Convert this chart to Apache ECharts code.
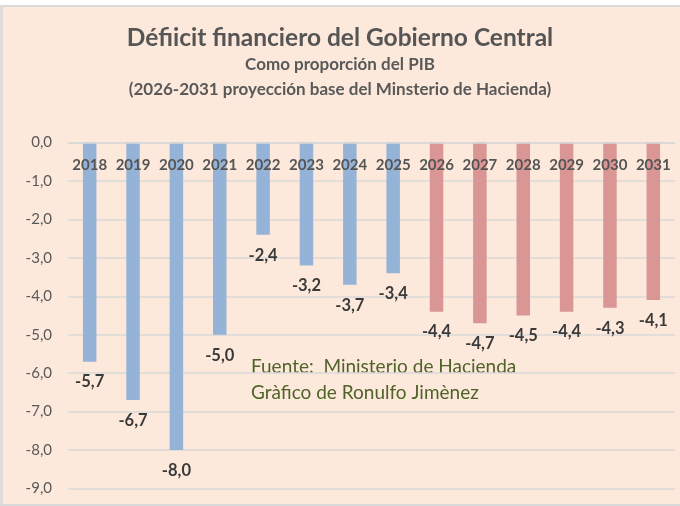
<!DOCTYPE html>
<html>
<head>
<meta charset="utf-8">
<script src="https://cdn.jsdelivr.net/npm/echarts@6/dist/echarts.min.js"></script>
<style>
  html, body { margin: 0; padding: 0; background: #ffffff; }
  #chart { width: 680px; height: 506px; }
</style>
</head>
<body>
<div id="chart"></div>
<script>
// data
const years = ['2018', '2019', '2020', '2021', '2022', '2023', '2024', '2025',
               '2026', '2027', '2028', '2029', '2030', '2031']
const deficit = [-5.7, -6.7, -8.0, -5.0, -2.4, -3.2, -3.7, -3.4,
                 -4.4, -4.7, -4.5, -4.4, -4.3, -4.1]
const firstProjected = '2026'
const titleLines = [
    'Défiicit financiero del Gobierno Central',
    'Como proporción del PIB',
    '(2026-2031 proyección base del Minsterio de Hacienda)'
]
const noteLines = ['Fuente:  Ministerio de Hacienda', 'Gràfico de Ronulfo Jimènez']

const FONT = 'Lato, "Open Sans", sans-serif'
const comma = v => Number(v).toFixed(1).replace('.', ',')

let chart = echarts.init(document.getElementById('chart'))

let option = {
    backgroundColor: '#fde9db',
    animation: false,
    textStyle: { fontFamily: FONT },
    grid: { left: 68, right: 5, top: 142.5, bottom: 17.5 },
    xAxis: {
        type: 'category',
        data: years,
        position: 'top',
        z: 10,
        axisLine: { show: true, lineStyle: { color: '#d9d9d9', width: 1.5 } },
        axisTick: { show: false },
        axisLabel: {
            inside: true,
            interval: 0,
            margin: 15,
            color: '#555555',
            fontSize: 15,
            fontWeight: 'bold',
            fontFamily: FONT
        }
    },
    yAxis: {
        type: 'value',
        min: -9,
        max: 0,
        interval: 1,
        axisLine: { show: false },
        axisTick: { show: false },
        splitLine: { lineStyle: { color: '#d9d9d9', width: 1.5 } },
        axisLabel: {
            margin: 16,
            color: '#595959',
            fontSize: 15,
            fontFamily: FONT,
            formatter: comma
        }
    },
    series: [{
        type: 'bar',
        data: deficit,
        barWidth: 13.5,
        itemStyle: {
            color: p => years[p.dataIndex] >= firstProjected ? '#d99694' : '#95b3d7'
        },
        label: {
            show: true,
            position: 'bottom',
            distance: 12,
            color: '#3a3a3a',
            fontSize: 16.5,
            fontWeight: 'bold',
            fontFamily: FONT,
            formatter: p => comma(p.value)
        }
    }],
    graphic: [
        // spreadsheet frame round the chart
        { type: 'rect', shape: { x: 0, y: 0, width: 680, height: 5 }, style: { fill: '#ffffff' }, silent: true },
        { type: 'rect', shape: { x: 0, y: 5, width: 680, height: 2 }, style: { fill: '#d9d9d9' }, silent: true },
        { type: 'rect', shape: { x: 0, y: 5, width: 3, height: 501 }, style: { fill: '#dcdcdc' }, silent: true },
        { type: 'rect', shape: { x: 0, y: 504, width: 680, height: 2 }, style: { fill: '#d9d9d9' }, silent: true },
        {
            type: 'text', left: 'center', top: 26,
            style: { text: titleLines[0], fill: '#555555', font: 'bold 24.5px ' + FONT }
        },
        {
            type: 'text', left: 'center', top: 56,
            style: { text: titleLines[1], fill: '#595959', font: 'bold 17px ' + FONT }
        },
        {
            type: 'text', left: 'center', top: 81,
            style: { text: titleLines[2], fill: '#595959', font: 'bold 17px ' + FONT }
        },
        {
            type: 'text', left: 251, top: 354,
            style: { text: noteLines.join('\n'), fill: '#4f6228', font: '19px ' + FONT, lineHeight: 26 }
        }
    ]
}

chart.setOption(option)
</script>
</body>
</html>
